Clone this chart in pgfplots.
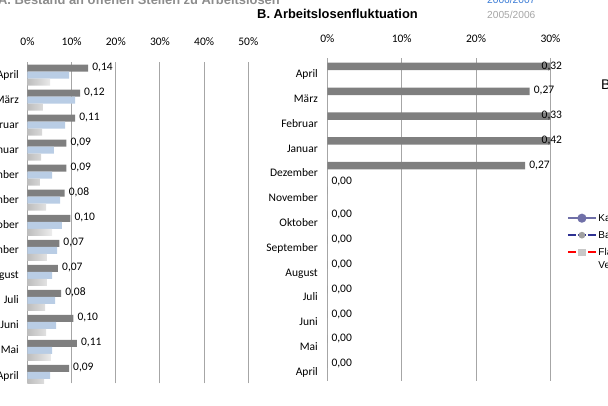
\documentclass[border=0pt]{standalone}
\usepackage{fontspec}
\setmainfont{Carlito}
\newfontfamily\arial{Liberation Sans}
\usepackage{pgfplots}
\pgfplotsset{compat=1.18}
\usepackage{pgfplotstable}

\definecolor{darkbar}{HTML}{7F7F7F}
\definecolor{bluebar}{HTML}{B9CDE5}
\definecolor{gridc}{HTML}{A6A6A6}
\definecolor{lgA}{HTML}{BDBDBD}
\definecolor{lgB}{HTML}{EDEDED}
\definecolor{yrblue}{HTML}{3A7BD5}
\definecolor{yrgray}{HTML}{A6A6A6}
\definecolor{titgray}{HTML}{8C8C8C}
\definecolor{legA}{HTML}{7070A8}
\definecolor{legB}{HTML}{2E3192}
\definecolor{legBm}{HTML}{A0A0A0}
\definecolor{legCm}{HTML}{C8C8C8}

\newcommand\lbl{\fontsize{11.5}{13}\selectfont}

\pgfplotstableread{
y dark blue light
12 0.1375 0.094 0.051
11 0.119 0.108 0.035
10 0.108 0.085 0.033
9 0.088 0.060 0.031
8 0.088 0.056 0.028
7 0.084 0.074 0.042
6 0.097 0.078 0.056
5 0.072 0.067 0.044
4 0.069 0.056 0.044
3 0.076 0.0625 0.040
2 0.104 0.065 0.042
1 0.112 0.056 0.053
0 0.094 0.051 0.0375
}\dataA

\pgfplotstableread{
y v
12 0.32
11 0.272
10 0.33
9 0.42
8 0.266
7 0
6 0
5 0
4 0
3 0
2 0
1 0
0 0
}\dataB

\pgfplotsset{
  monthchart/.style={
    scale only axis, anchor=south west,
    axis line style={draw=none},
    major tick length=0pt,
    xmajorgrids, grid style={draw=gridc, line width=1pt},
    xticklabel pos=upper,
    xticklabel style={anchor=center, yshift=19.5pt, font=\lbl, text height=7.4pt, text depth=0pt, inner sep=0pt},
    yticklabel style={anchor=east, inner sep=0pt, font=\lbl, text height=7.4pt, text depth=0pt},
    ytick={0,...,12},
    yticklabels={April,Mai,Juni,Juli,August,September,Oktober,November,Dezember,Januar,Februar,März,April},
    /pgf/number format/.cd, fixed, fixed zerofill, precision=2, use comma, assume math mode=true,
  },
}

\begin{document}
\begin{tikzpicture}[x=1pt,y=1pt]
\useasboundingbox (0,0) rectangle (608,405);
\clip (0,0) rectangle (608,405);

% titles
\node[anchor=base east, inner sep=0pt, text=titgray, font=\arial\bfseries\fontsize{12.9}{15}\selectfont] at (280,400) {A. Bestand an offenen Stellen zu Arbeitslosen};
\node[anchor=base, inner sep=0pt, font=\arial\bfseries\fontsize{12.9}{15}\selectfont] at (337.5,386) {B. Arbeitslosenfluktuation};
\node[anchor=base west, inner sep=0pt, text=yrblue, font=\arial\fontsize{10.2}{12}\selectfont] at (487,401) {2006/2007};
\node[anchor=base west, inner sep=0pt, text=yrgray, font=\arial\fontsize{10.2}{12}\selectfont] at (487,386.7) {2005/2006};
\node[anchor=base west, inner sep=0pt, font=\arial\fontsize{14}{16}\selectfont] at (601,315) {B};

% chart A
\begin{axis}[monthchart,
  at={(27.5pt,21.7pt)}, width=220.8pt, height=321.6pt,
  xmin=0, xmax=0.5, ymin=-0.32, ymax=12.54,
  xtick={0,0.1,0.2,0.3,0.4,0.5},
  xticklabels={0\%,10\%,20\%,30\%,40\%,50\%},
  yticklabel style={xshift=-8.5pt},
]
\addplot[xbar, bar width=7pt, bar shift=7pt, fill=darkbar, draw=none,
  point meta=x, nodes near coords,
  every node near coord/.append style={anchor=west, inner sep=0pt, xshift=4pt, yshift=8.5pt, font=\lbl, text=black, text height=7.4pt, text depth=0pt}]
  table[x=dark, y=y] {\dataA};
\addplot[xbar, bar width=7pt, bar shift=0pt, fill=bluebar, draw=none]
  table[x=blue, y=y] {\dataA};
\addplot[xbar, bar width=7pt, bar shift=-7pt, draw=none, left color=lgA, right color=lgB]
  table[x=light, y=y] {\dataA};
\end{axis}

% chart B
\begin{axis}[monthchart,
  at={(327.3pt,24.3pt)}, width=223.2pt, height=322.4pt,
  xmin=0, xmax=0.3, ymin=-0.371, ymax=12.633,
  xtick={0,0.1,0.2,0.3},
  xticklabels={0\%,10\%,20\%,30\%},
  yticklabel style={xshift=-9.3pt},
]
\addplot[xbar, bar width=7.5pt, bar shift=7.5pt, fill=darkbar, draw=none,
  x filter/.expression={min(x,0.3)},
  point meta={\thisrow{v}},
  visualization depends on={\thisrow{v} \as \rawv},
  visualization depends on={\thisrow{y} \as \rowy},
  nodes near coords,
  every node near coord/.append style={anchor=west, inner sep=0pt, xshift={4-13*(\rawv>0.3)}, yshift={8.5+9*(\rowy==7)}, font=\lbl, text=black, text height=7.4pt, text depth=0pt}]
  table[x=v, y=y] {\dataB};
\end{axis}

% partly visible legend of a further chart
\begin{axis}[at={(0pt,0pt)}, anchor=south west, scale only axis, width=608pt, height=405pt,
  hide axis, xmin=0, xmax=608, ymin=0, ymax=405,
  legend style={at={(0.9321,0.4704)}, anchor=north west, draw=none, fill=none,
    inner sep=0pt, row sep=10pt, column sep=1.5pt,
    nodes={inner sep=0pt, text height=7pt, text depth=0pt},
    font=\arial\fontsize{10}{12}\selectfont},
  legend cell align=left,
  legend image code/.code={\draw[mark repeat=2, mark phase=2, #1] plot coordinates {(0pt,0pt) (14pt,0pt) (28pt,0pt)};},
]
\addlegendimage{legA, line width=2pt, mark=*, mark size=3.5pt, mark options={solid, fill=legA, draw=legA}}
\addlegendentry{Karlsruhe}
\addlegendimage{legB, line width=2pt, dash pattern=on 8pt off 2pt, mark=*, mark size=2.3pt, mark options={solid, fill=legBm, draw=legBm}}
\addlegendentry{Baden}
\addlegendimage{red, line width=2pt, dash pattern=on 8pt off 2pt, mark=square*, mark size=2.6pt, mark options={solid, fill=legCm, draw=legCm}}
\addlegendentry{\rlap{\smash{\raisebox{-13pt}{Verteilung}}}Fläche}
\end{axis}
\end{tikzpicture}
\end{document}
